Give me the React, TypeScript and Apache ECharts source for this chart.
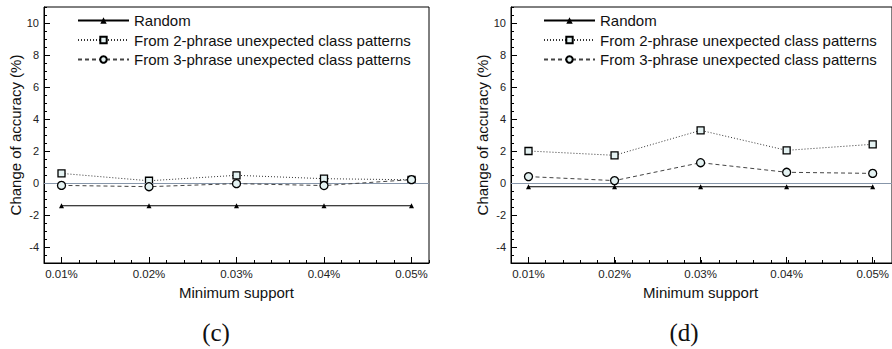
import React, { useEffect, useRef } from "react";
import * as echarts from "echarts";

const categories = ["0.01%", "0.02%", "0.03%", "0.04%", "0.05%"];
const seriesNames = [
  "Random",
  "From 2-phrase unexpected class patterns",
  "From 3-phrase unexpected class patterns",
];
// panel (c)
const randomC = [-1.42, -1.42, -1.42, -1.42, -1.42];
const twoPhraseC = [0.6, 0.14, 0.48, 0.27, 0.2];
const threePhraseC = [-0.15, -0.23, -0.04, -0.16, 0.21];
// panel (d)
const randomD = [-0.23, -0.23, -0.23, -0.23, -0.23];
const twoPhraseD = [2.0, 1.73, 3.29, 2.04, 2.42];
const threePhraseD = [0.4, 0.15, 1.27, 0.67, 0.6];

const captions = ["(c)", "(d)"];

const FONT = "Liberation Sans, Arial, Helvetica, sans-serif";

const toPoints = (vals: number[]) => vals.map((v, i) => [i + 1, v]);

// frame extents (x in category-index units, y in %)
const X_MIN = 0.8, X_MAX = 5.2, Y_MIN = -5, Y_MAX = 11;
const IX_MIN = 1, IX_MAX = 5, IY_MIN = -4, IY_MAX = 10;

export default function App() {
  const ref = useRef<HTMLDivElement>(null);
  useEffect(() => {
    if (!ref.current) return;
    const chart = echarts.init(ref.current, null, { renderer: "svg" });

    const PW = 385, PH = 256, TOP = 7;
    const pxX = PW / (X_MAX - X_MIN);
    const pxY = PH / (Y_MAX - Y_MIN);
    const lefts = [44, 511];

    const grids: any[] = [];
    lefts.forEach((l) => {
      grids.push({ left: l, top: TOP, width: PW, height: PH, show: true, borderColor: "#000", borderWidth: 1, backgroundColor: "transparent" });
      grids.push({
        left: l + (IX_MIN - X_MIN) * pxX,
        top: TOP + (Y_MAX - IY_MAX) * pxY,
        width: (IX_MAX - IX_MIN) * pxX,
        height: (IY_MAX - IY_MIN) * pxY,
        show: false,
      });
    });

    const xAxes: any[] = [];
    const yAxes: any[] = [];
    [0, 1].forEach((gi) => {
      // frame axes with minor ticks
      xAxes.push({
        type: "value", gridIndex: gi * 2, min: X_MIN, max: X_MAX, interval: 0.2,
        axisLine: { show: true, onZero: false, lineStyle: { color: "#000", width: 1 } },
        axisTick: { show: true, inside: true, length: 3, lineStyle: { color: "#000", width: 1 } },
        axisLabel: { show: false }, splitLine: { show: false },
      });
      xAxes.push({
        type: "value", gridIndex: gi * 2 + 1, min: IX_MIN, max: IX_MAX, interval: 1,
        position: "bottom",
        offset: (IY_MIN - Y_MIN) * pxY,
        axisLine: { show: false, onZero: false },
        axisTick: { show: true, inside: true, length: 6, lineStyle: { color: "#000", width: 1 } },
        axisLabel: {
          show: true, margin: 5, fontSize: 11.5, color: "#222", fontFamily: FONT,
          formatter: (v: number) => categories[Math.round(v) - 1] ?? "",
        },
        splitLine: { show: false },
        name: "Minimum support", nameLocation: "middle", nameGap: 21,
        nameTextStyle: { fontSize: 15, color: "#111", fontFamily: FONT },
      });
      yAxes.push({
        type: "value", gridIndex: gi * 2, min: Y_MIN, max: Y_MAX, interval: 0.5,
        axisLine: { show: true, onZero: false, lineStyle: { color: "#000", width: 1 } },
        axisTick: { show: true, inside: true, length: 3, lineStyle: { color: "#000", width: 1 } },
        axisLabel: { show: false }, splitLine: { show: false },
      });
      yAxes.push({
        type: "value", gridIndex: gi * 2 + 1, min: IY_MIN, max: IY_MAX, interval: 2,
        position: "left",
        offset: (IX_MIN - X_MIN) * pxX,
        axisLine: { show: false, onZero: false },
        axisTick: { show: true, inside: true, length: 6, lineStyle: { color: "#000", width: 1 } },
        axisLabel: { show: true, margin: 5, fontSize: 11, color: "#222", fontFamily: FONT },
        splitLine: { show: false },
        name: "Change of accuracy (%)", nameLocation: "middle", nameGap: 17,
        nameTextStyle: { fontSize: 15, color: "#111", fontFamily: FONT },
      });
    });

    const markerFill = "#e4f2f2";
    const makeSeries = (gi: number, r: number[], two: number[], three: number[]) => [
      {
        type: "line",
        xAxisIndex: gi * 2,
        yAxisIndex: gi * 2,
        data: [],
        silent: true,
        markLine: {
          silent: true,
          symbol: "none",
          label: { show: false },
          lineStyle: { color: "#8796aa", width: 1, type: "solid" },
          data: [{ yAxis: 0 }],
        },
        z: 1,
      },
      {
        name: seriesNames[0],
        type: "line",
        xAxisIndex: gi * 2 + 1,
        yAxisIndex: gi * 2 + 1,
        data: toPoints(r),
        symbol: "triangle",
        symbolSize: 5,
        clip: false,
        itemStyle: { color: "#000", borderColor: "#000", borderWidth: 0 },
        lineStyle: { color: "#000", width: 1.1, type: "solid" },
        z: 3,
      },
      {
        name: seriesNames[1],
        type: "line",
        xAxisIndex: gi * 2 + 1,
        yAxisIndex: gi * 2 + 1,
        data: toPoints(two),
        symbol: "rect",
        symbolSize: 7,
        clip: false,
        itemStyle: { color: markerFill, borderColor: "#000", borderWidth: 1.3 },
        lineStyle: { color: "#333", width: 1, type: [1, 2] },
        z: 4,
      },
      {
        name: seriesNames[2],
        type: "line",
        xAxisIndex: gi * 2 + 1,
        yAxisIndex: gi * 2 + 1,
        data: toPoints(three),
        symbol: "circle",
        symbolSize: 8,
        clip: false,
        itemStyle: { color: markerFill, borderColor: "#000", borderWidth: 1.3 },
        lineStyle: { color: "#444", width: 1, type: [4, 3] },
        z: 5,
      },
    ];

    const legend = (left: number) => ({
      orient: "vertical",
      left,
      top: 13,
      padding: 0,
      itemWidth: 51,
      itemHeight: 8,
      itemGap: 4.5,
      data: seriesNames,
      selectedMode: false,
      textStyle: { fontSize: 15, color: "#111", fontFamily: FONT },
    });

    const captionStyle = {
      fontSize: 25,
      fontFamily: "Liberation Serif, DejaVu Serif, serif",
      fill: "#111",
      textAlign: "center",
      textVerticalAlign: "middle",
    };

    chart.setOption({
      animation: false,
      backgroundColor: "#fff",
      grid: grids,
      xAxis: xAxes,
      yAxis: yAxes,
      legend: [legend(77), legend(543)],
      series: [
        ...makeSeries(0, randomC, twoPhraseC, threePhraseC),
        ...makeSeries(1, randomD, twoPhraseD, threePhraseD),
      ],
      graphic: [
        { type: "text", x: 216, y: 332, style: { ...captionStyle, text: captions[0] } },
        { type: "text", x: 684, y: 332, style: { ...captionStyle, text: captions[1] } },
      ],
    });
    return () => chart.dispose();
  }, []);
  return (
    <div
      ref={ref}
      style={{ position: "absolute", left: 0, top: 0, width: 892, height: 349 }}
    />
  );
}
